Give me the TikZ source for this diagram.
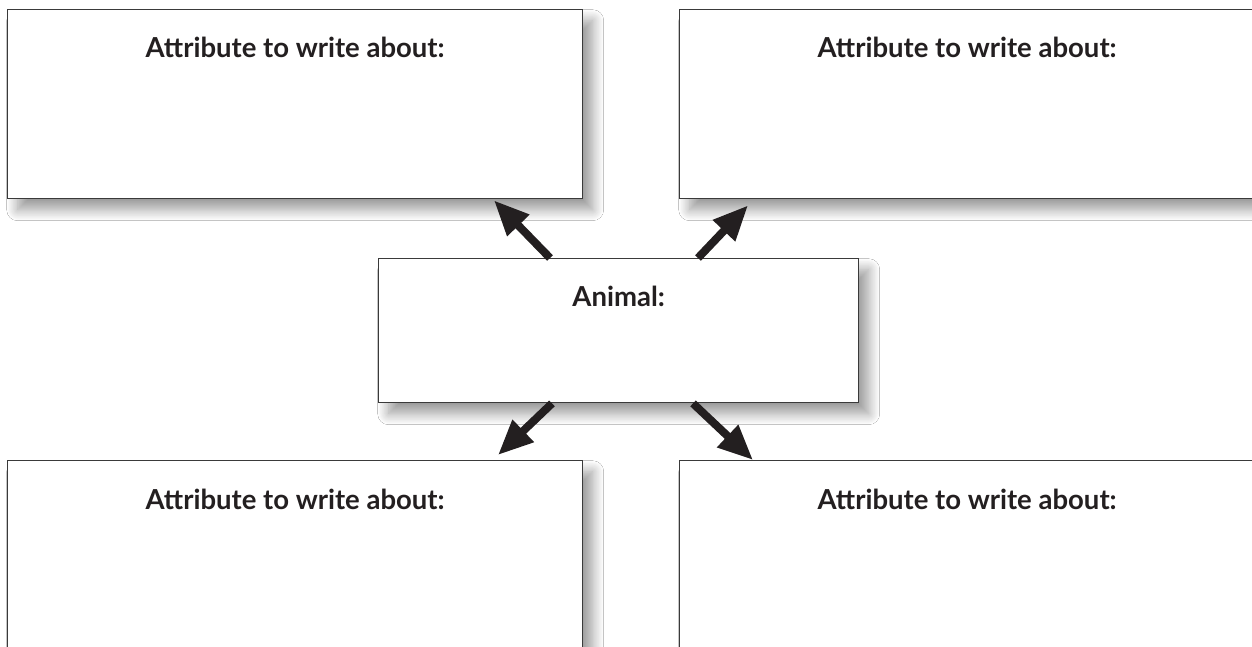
\documentclass[tikz,border=0pt]{standalone}
\usepackage{fontspec}
\setmainfont{Lato}
\usetikzlibrary{shadows.blur,arrows.meta,calc}
\definecolor{ink}{HTML}{231F20}
\definecolor{edge}{HTML}{3A3A3A}
\tikzset{
  card/.style={draw=edge, line width=1.4pt, fill=white, rectangle, anchor=north west,
    inner sep=0pt, minimum width=575pt,
    blur shadow={shadow xshift=10pt, shadow yshift=-11pt, shadow blur radius=11pt, shadow blur steps=14, shadow opacity=40}},
  cardtitle/.style={anchor=base, text=ink, font=\fontsize{27.5}{30}\selectfont\bfseries, inner sep=0pt},
  bigarrow/.style={draw=ink, line width=8pt, -{Triangle[length=35pt,width=29pt]}}
}
\begin{document}
\begin{tikzpicture}[x=1pt,y=-1pt]
\clip (0,0) rectangle (1252,647);
\fill[white] (0,0) rectangle (1252,647);
\node[card, minimum height=189pt] (tl) at (7,9) {};
\node[card, minimum height=189pt] (tr) at (679,9) {};
\node[card, minimum height=189pt] (bl) at (7,460) {};
\node[card, minimum height=189pt] (br) at (679,460) {};
\node[card, minimum width=480pt, minimum height=144pt] (c) at (378,258) {};
\node[cardtitle] (tlt) at ($(tl.north)+(0,49)$) {Attribute to write about:};
\node[cardtitle] (trt) at ($(tr.north)+(0,49)$) {Attribute to write about:};
\node[cardtitle] (blt) at ($(bl.north)+(0,49)$) {Attribute to write about:};
\node[cardtitle] (brt) at ($(br.north)+(0,49)$) {Attribute to write about:};
\node[cardtitle] (ct) at ($(c.north)+(0,48)$) {Animal:};
\coordinate (a1) at ($(c.north west)+(172,0)$);
\coordinate (a2) at ($(c.north west)+(320,0)$);
\coordinate (a3) at ($(c.south west)+(174,0)$);
\coordinate (a4) at ($(c.south west)+(315,0)$);
\coordinate (t1) at ($(tl.south west)+(487,1)$);
\coordinate (t2) at ($(tr.south west)+(69,6)$);
\coordinate (t3) at ($(bl.north west)+(491,-5)$);
\coordinate (t4) at ($(br.north west)+(74,0)$);
\draw[bigarrow] (a1) -- (t1);
\draw[bigarrow] (a2) -- (t2);
\draw[bigarrow] (a3) -- (t3);
\draw[bigarrow] (a4) -- (t4);
\end{tikzpicture}
\end{document}
